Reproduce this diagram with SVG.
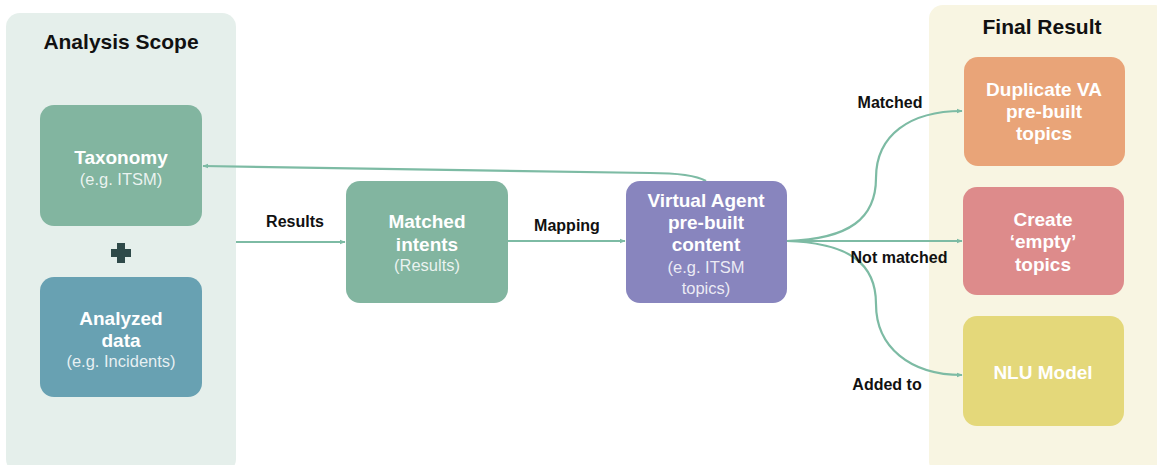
<svg xmlns="http://www.w3.org/2000/svg" width="1157" height="465" viewBox="0 0 1157 465">
<defs>
<marker id="ah" viewBox="0 0 10 10" refX="9" refY="5" markerWidth="6" markerHeight="6" orient="auto" markerUnits="userSpaceOnUse">
<path d="M0,1 L10,5 L0,9 z" fill="#7dbba4"/>
</marker>
<style>
.panel{stroke:none}
.node{stroke:none}
.t{font-family:"Liberation Sans",Arial,sans-serif;font-weight:bold;font-size:19px;fill:#ffffff;text-anchor:middle}
.s{font-family:"Liberation Sans",Arial,sans-serif;font-size:16.5px;fill:#ffffff;fill-opacity:0.85;text-anchor:middle}
.h{font-family:"Liberation Sans",Arial,sans-serif;font-weight:bold;font-size:21px;fill:#111111;text-anchor:middle}
.l{font-family:"Liberation Sans",Arial,sans-serif;font-weight:bold;font-size:16px;fill:#111111;text-anchor:middle}
.c{fill:none;stroke:#7dbba4;stroke-width:2.2;marker-end:url(#ah)}
</style>
</defs>
<rect width="1157" height="465" fill="#ffffff"/>
<g id="analysis-scope">
<rect class="panel" x="6" y="13" width="230" height="460" rx="14" fill="#e5efeb"/>
<text class="h" x="121" y="49">Analysis Scope</text>
</g>
<g id="final-result">
<rect class="panel" x="929" y="5" width="240" height="470" rx="14" fill="#f8f5e2"/>
<text class="h" x="1042" y="34">Final Result</text>
</g>
<g id="connectors">
<path class="c" d="M236,242 L345,242"/>
<path class="c" d="M508,241 L625,241"/>
<path class="c" d="M706,181 Q692,173 650,173 L203,166"/>
<path class="c" d="M787,241 L962,241"/>
<path class="c" d="M787,241 C850,239 876,218 876,178 C876,135 910,111 962,111"/>
<path class="c" d="M787,241 C850,243 876,264 876,304 C876,347 910,375 962,375"/>
<text class="l" x="295" y="227">Results</text>
<text class="l" x="567" y="231">Mapping</text>
<text class="l" x="890" y="108">Matched</text>
<text class="l" x="899" y="263">Not matched</text>
<text class="l" x="887" y="390">Added to</text>
</g>
<g id="taxonomy">
<rect class="node" x="40" y="105" width="162" height="121" rx="14" fill="#82b5a0"/>
<text class="t" x="121" y="164">Taxonomy</text>
<text class="s" x="121" y="185">(e.g. ITSM)</text>
</g>
<g id="plus">
<path d="M117,243 h8 v6 h6 v8 h-6 v6 h-8 v-6 h-6 v-8 h6 z" fill="#2f4a49"/>
</g>
<g id="analyzed-data">
<rect class="node" x="40" y="277" width="162" height="120" rx="14" fill="#68a1b2"/>
<text class="t" x="121" y="325">Analyzed</text>
<text class="t" x="121" y="347">data</text>
<text class="s" x="121" y="367">(e.g. Incidents)</text>
</g>
<g id="matched-intents">
<rect class="node" x="346" y="181" width="162" height="122" rx="14" fill="#82b5a0"/>
<text class="t" x="427" y="228">Matched</text>
<text class="t" x="427" y="251">intents</text>
<text class="s" x="427" y="271">(Results)</text>
</g>
<g id="virtual-agent">
<rect class="node" x="626" y="181" width="161" height="122" rx="14" fill="#8885be"/>
<text class="t" x="706" y="207">Virtual Agent</text>
<text class="t" x="706" y="229">pre-built</text>
<text class="t" x="706" y="251">content</text>
<text class="s" x="706" y="273">(e.g. ITSM</text>
<text class="s" x="706" y="294">topics)</text>
</g>
<g id="duplicate">
<rect class="node" x="964" y="57" width="161" height="109" rx="14" fill="#e9a478"/>
<text class="t" x="1044" y="96">Duplicate VA</text>
<text class="t" x="1044" y="118">pre-built</text>
<text class="t" x="1044" y="140">topics</text>
</g>
<g id="create-empty">
<rect class="node" x="963" y="187" width="161" height="108" rx="14" fill="#dd8b8b"/>
<text class="t" x="1043" y="226">Create</text>
<text class="t" x="1043" y="248">‘empty’</text>
<text class="t" x="1043" y="271">topics</text>
</g>
<g id="nlu-model">
<rect class="node" x="963" y="316" width="161" height="110" rx="14" fill="#e4d87a"/>
<text class="t" x="1043" y="379">NLU Model</text>
</g>
</svg>
